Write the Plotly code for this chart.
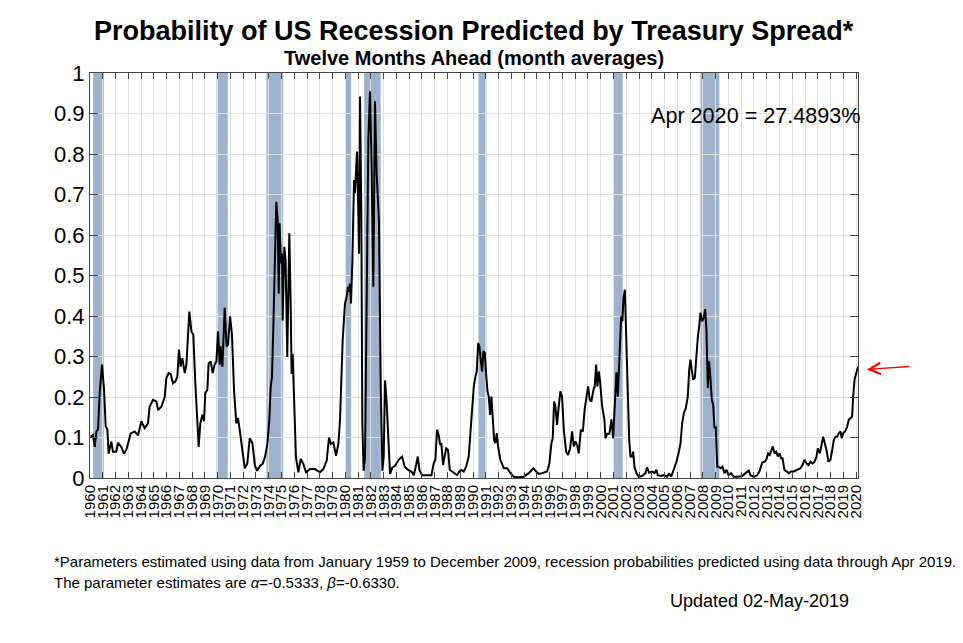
import plotly.graph_objects as go

# probability readings, decimal year -> probability
years = [
    1960.05, 1960.23, 1960.37, 1960.50, 1960.63, 1960.76, 1960.94, 1961.10, 1961.23, 1961.36,
    1961.46, 1961.67, 1961.80, 1962.06, 1962.19, 1962.45, 1962.66, 1962.85, 1963.19, 1963.50,
    1963.76, 1964.02, 1964.28, 1964.54, 1964.67, 1964.93, 1965.20, 1965.33, 1965.59, 1965.85,
    1965.98, 1966.16, 1966.32, 1966.50, 1966.68, 1966.84, 1966.97, 1967.10, 1967.23, 1967.42,
    1967.55, 1967.68, 1967.78, 1967.94, 1968.09, 1968.25, 1968.41, 1968.51, 1968.64, 1968.80,
    1968.93, 1969.03, 1969.19, 1969.29, 1969.45, 1969.61, 1969.76, 1969.90, 1970.03, 1970.16,
    1970.23, 1970.37, 1970.55, 1970.70, 1970.81, 1970.97, 1971.12, 1971.28, 1971.46, 1971.59,
    1971.72, 1971.91, 1972.12, 1972.32, 1972.51, 1972.72,
    1972.92, 1973.10, 1973.31, 1973.52, 1973.70, 1973.89, 1974.04, 1974.15, 1974.25, 1974.36,
    1974.49, 1974.59, 1974.70, 1974.78, 1974.85, 1974.96, 1975.04, 1975.09, 1975.22, 1975.32,
    1975.45, 1975.61, 1975.72, 1975.79, 1975.87, 1975.98, 1976.13, 1976.32, 1976.50, 1976.71,
    1976.92, 1977.23, 1977.62, 1978.01, 1978.27, 1978.54, 1978.72, 1978.87, 1979.06, 1979.27,
    1979.45, 1979.58, 1979.66, 1979.79, 1979.97, 1980.10, 1980.21, 1980.28, 1980.36, 1980.44,
    1980.55, 1980.68, 1980.75, 1980.83, 1980.91, 1981.00, 1981.07, 1981.15, 1981.25, 1981.33,
    1981.43, 1981.54, 1981.67, 1981.80, 1981.93, 1982.06, 1982.19, 1982.32, 1982.45, 1982.56,
    1982.63, 1982.77, 1982.90, 1983.00, 1983.11, 1983.24, 1983.36, 1983.50, 1983.68, 1983.89,
    1984.18, 1984.44, 1984.65, 1984.91, 1985.17, 1985.36, 1985.54, 1985.67, 1985.80, 1986.01,
    1986.40, 1986.74, 1986.92, 1987.05, 1987.18, 1987.31, 1987.42, 1987.52, 1987.65, 1987.78,
    1987.89, 1988.04, 1988.18, 1988.36, 1988.57, 1988.75, 1988.93, 1989.09, 1989.27, 1989.46,
    1989.66, 1989.87, 1990.06, 1990.19, 1990.29, 1990.40, 1990.50, 1990.60, 1990.71, 1990.81,
    1990.92, 1991.02, 1991.13, 1991.23, 1991.34, 1991.44, 1991.54, 1991.65, 1991.75, 1991.86,
    1991.96, 1992.14, 1992.41, 1992.67, 1992.93, 1993.19, 1993.58, 1993.97, 1994.36, 1994.73,
    1994.94, 1995.15, 1995.41, 1995.80, 1995.98, 1996.14, 1996.24, 1996.35, 1996.45, 1996.58,
    1996.71, 1996.84, 1996.97, 1997.11, 1997.29, 1997.44, 1997.60, 1997.76, 1997.89, 1998.02,
    1998.15, 1998.28, 1998.44, 1998.60, 1998.75, 1998.91, 1999.01, 1999.14, 1999.27, 1999.43,
    1999.53, 1999.64, 1999.74, 1999.85, 1999.95,
    2000.11, 2000.29, 2000.37, 2000.50, 2000.68, 2000.84, 2000.97, 2001.13, 2001.23, 2001.34,
    2001.49, 2001.60, 2001.70, 2001.78, 2001.89, 2001.99, 2002.12, 2002.23, 2002.33, 2002.46,
    2002.54, 2002.64, 2002.80, 2002.98, 2003.24, 2003.50, 2003.63, 2003.79, 2004.03, 2004.21,
    2004.37, 2004.47, 2004.68, 2004.94, 2005.20, 2005.36, 2005.52, 2005.72, 2005.93, 2006.12,
    2006.25, 2006.38, 2006.51, 2006.66, 2006.82, 2006.93, 2007.03, 2007.13, 2007.24, 2007.37,
    2007.47, 2007.60, 2007.71, 2007.81, 2007.94, 2008.07, 2008.18, 2008.28, 2008.39, 2008.49,
    2008.60, 2008.70, 2008.81, 2008.91, 2009.01, 2009.12, 2009.25, 2009.38, 2009.54, 2009.69,
    2009.85, 2010.01, 2010.21, 2010.42, 2010.74, 2011.08, 2011.34, 2011.60, 2011.73, 2011.99,
    2012.25, 2012.46, 2012.64, 2012.82, 2012.98, 2013.11, 2013.24, 2013.35, 2013.48, 2013.61,
    2013.74, 2013.87, 2014.00, 2014.13, 2014.24, 2014.39, 2014.55, 2014.73, 2014.91, 2015.12,
    2015.38, 2015.64, 2015.80, 2015.96, 2016.12, 2016.27, 2016.43, 2016.59, 2016.74, 2016.90,
    2017.00, 2017.16, 2017.27, 2017.42, 2017.55, 2017.68, 2017.84, 2017.99, 2018.13, 2018.26,
    2018.39, 2018.52, 2018.65, 2018.78, 2018.88, 2018.99, 2019.14, 2019.30, 2019.43, 2019.56,
    2019.69, 2019.77, 2019.88, 2019.98, 2020.09, 2020.16,
]
prob = [
    0.102, 0.106, 0.077, 0.115, 0.120, 0.210, 0.280, 0.218, 0.127, 0.120,
    0.060, 0.090, 0.065, 0.065, 0.087, 0.077, 0.060, 0.070, 0.110, 0.115,
    0.105, 0.140, 0.123, 0.135, 0.176, 0.193, 0.189, 0.168, 0.176, 0.200,
    0.247, 0.259, 0.257, 0.234, 0.238, 0.250, 0.317, 0.275, 0.296, 0.259,
    0.280, 0.370, 0.411, 0.362, 0.354, 0.234, 0.115, 0.077, 0.135, 0.156,
    0.140, 0.210, 0.218, 0.283, 0.288, 0.259, 0.280, 0.288, 0.362, 0.280,
    0.325, 0.275, 0.420, 0.325, 0.329, 0.399, 0.354, 0.218, 0.135, 0.148,
    0.120, 0.077, 0.024, 0.036, 0.098, 0.086,
    0.030, 0.018, 0.030, 0.035, 0.051, 0.084, 0.142, 0.224, 0.249, 0.373,
    0.571, 0.682, 0.637, 0.455, 0.629, 0.530, 0.554, 0.389, 0.571, 0.538,
    0.299, 0.604, 0.422, 0.257, 0.307, 0.175, 0.051, 0.014, 0.047, 0.035,
    0.014, 0.022, 0.022, 0.014, 0.022, 0.043, 0.100, 0.084, 0.088, 0.055,
    0.084, 0.142, 0.233, 0.340, 0.431, 0.447, 0.472, 0.460, 0.480, 0.431,
    0.538, 0.736, 0.703, 0.752, 0.806, 0.678, 0.554, 0.942, 0.653, 0.134,
    0.018, 0.051, 0.422, 0.835, 0.955, 0.761, 0.472, 0.930, 0.752, 0.653,
    0.637, 0.224, 0.018, 0.051, 0.241, 0.183, 0.100, 0.010, 0.026, 0.030,
    0.045, 0.053, 0.028, 0.020, 0.016, 0.007, 0.032, 0.053, 0.020, 0.007,
    0.007, 0.007, 0.036, 0.045, 0.119, 0.106, 0.082, 0.086, 0.032, 0.061,
    0.073, 0.069, 0.020, 0.016, 0.012, 0.007, 0.016, 0.020, 0.016, 0.028,
    0.053, 0.135, 0.226, 0.251, 0.263, 0.333, 0.325, 0.292, 0.263, 0.313,
    0.309, 0.259, 0.214, 0.201, 0.156, 0.201, 0.160, 0.094, 0.086, 0.111,
    0.078, 0.045, 0.024, 0.024, 0.012, 0.003, 0.002, 0.003, 0.012, 0.024,
    0.016, 0.010, 0.012, 0.016, 0.036, 0.086, 0.098, 0.189, 0.177, 0.131,
    0.177, 0.214, 0.201, 0.119, 0.065, 0.057, 0.073, 0.115, 0.078, 0.090,
    0.082, 0.061, 0.119, 0.115, 0.172, 0.214, 0.226, 0.193, 0.189, 0.218,
    0.226, 0.280, 0.226, 0.263, 0.238,
    0.177, 0.144, 0.098, 0.109, 0.109, 0.145, 0.098, 0.201, 0.261, 0.201,
    0.325, 0.399, 0.387, 0.445, 0.465, 0.350, 0.226, 0.094, 0.053, 0.053,
    0.065, 0.028, 0.012, 0.003, 0.005, 0.012, 0.026, 0.013, 0.016, 0.012,
    0.020, 0.007, 0.005, 0.007, 0.003, 0.012, 0.003, 0.020, 0.040, 0.065,
    0.086, 0.135, 0.160, 0.172, 0.201, 0.267, 0.292, 0.267, 0.243, 0.247,
    0.300, 0.346, 0.375, 0.408, 0.387, 0.395, 0.417, 0.366, 0.222, 0.288,
    0.243, 0.193, 0.181, 0.123, 0.127, 0.028, 0.028, 0.024, 0.028, 0.012,
    0.020, 0.007, 0.012, 0.003, 0.003, 0.005, 0.012, 0.018, 0.007, 0.003,
    0.007, 0.018, 0.038, 0.040, 0.046, 0.061, 0.057, 0.069, 0.078, 0.061,
    0.065, 0.053, 0.061, 0.049, 0.049, 0.020, 0.016, 0.012, 0.016, 0.016,
    0.020, 0.024, 0.032, 0.045, 0.036, 0.032, 0.040, 0.036, 0.040, 0.053,
    0.073, 0.061, 0.078, 0.102, 0.086, 0.069, 0.040, 0.045, 0.069, 0.094,
    0.102, 0.102, 0.111, 0.115, 0.098, 0.111, 0.115, 0.127, 0.144, 0.148,
    0.152, 0.201, 0.243, 0.255, 0.271, 0.275,
]

# recession shading as drawn (decimal years)
rec_start = [1960.25, 1969.91, 1973.82, 1980.01, 1981.47, 1990.42, 2001.02, 2007.81]
rec_end = [1961.08, 1970.79, 1975.13, 1980.45, 1982.77, 1991.05, 2001.72, 2009.29]

tick_years = list(range(1960, 2021))
y_ticks = [0, 0.1, 0.2, 0.3, 0.4, 0.5, 0.6, 0.7, 0.8, 0.9, 1]
y_labels = ["0", "0.1", "0.2", "0.3", "0.4", "0.5", "0.6", "0.7", "0.8", "0.9", "1"]

FONT = "Liberation Sans, Arial, sans-serif"

fig = go.Figure()
fig.add_trace(go.Scatter(x=years, y=prob, mode="lines",
                         line=dict(color="black", width=2), showlegend=False))

for s, e in zip(rec_start, rec_end):
    fig.add_shape(type="rect", xref="x", yref="paper", x0=s, x1=e, y0=0, y1=1,
                  fillcolor="rgb(158,178,203)", line_width=0, layer="below")

# page body adds 8px, so margins are 8px less than the target positions
fig.update_layout(
    width=963, height=643,
    margin=dict(l=82, r=113, t=65, b=173),
    paper_bgcolor="white", plot_bgcolor="white",
    font=dict(family=FONT, color="black"),
)
fig.update_xaxes(
    range=[1960, 2020.15], tickvals=tick_years, ticktext=[str(y) for y in tick_years],
    tickangle=-90, tickfont=dict(size=15),
    showgrid=True, gridcolor="rgb(225,225,225)", gridwidth=1,
    ticks="inside", ticklen=6, tickcolor="#444", mirror="ticks",
    showline=True, linecolor="#444", linewidth=1, zeroline=False,
)
fig.update_yaxes(
    range=[0, 1], tickvals=y_ticks, ticktext=y_labels, tickfont=dict(size=22),
    showgrid=True, gridcolor="rgb(225,225,225)", gridwidth=1,
    ticks="inside", ticklen=8, tickcolor="#444", mirror="ticks",
    showline=True, linecolor="#444", linewidth=1, zeroline=False,
)

fig.add_annotation(text="<b>Probability of US Recession Predicted by Treasury Spread*</b>",
                   xref="paper", yref="paper", x=0.5, y=1.103, xanchor="center", yanchor="middle",
                   showarrow=False, font=dict(size=27))
fig.add_annotation(text="<b>Twelve Months Ahead (month averages)</b>",
                   xref="paper", yref="paper", x=0.5, y=1.036, xanchor="center", yanchor="middle",
                   showarrow=False, font=dict(size=20))
fig.add_annotation(text="Apr 2020 = 27.4893%",
                   xref="paper", yref="paper", x=1.007, y=0.894, xanchor="right", yanchor="middle",
                   showarrow=False, font=dict(size=21.6))
fig.add_annotation(text="*Parameters estimated using data from January 1959 to December 2009, "
                        "recession probabilities predicted using data through Apr 2019.",
                   xref="paper", yref="paper", x=-0.0495, y=-0.207, xanchor="left", yanchor="middle",
                   showarrow=False, font=dict(size=15))
fig.add_annotation(text="The parameter estimates are <i>α</i>=-0.5333, <i>β</i>=-0.6330.",
                   xref="paper", yref="paper", x=-0.0495, y=-0.259, xanchor="left", yanchor="middle",
                   showarrow=False, font=dict(size=15))
fig.add_annotation(text="Updated 02-May-2019",
                   xref="paper", yref="paper", x=0.7526, y=-0.304, xanchor="left", yanchor="middle",
                   showarrow=False, font=dict(size=18))

# hand-drawn red arrow pointing at the latest value
fig.add_annotation(text="", xref="paper", yref="y", x=1.0115, y=0.268,
                   ax=44, ay=-3, showarrow=True, arrowhead=5, arrowsize=1.6,
                   arrowwidth=1.4, arrowcolor="red")

fig.write_html("out.html")
